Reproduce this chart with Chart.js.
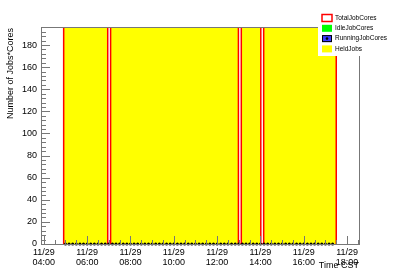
<!DOCTYPE html>
<html>
<head>
<meta charset="utf-8">
<script src="https://cdn.jsdelivr.net/npm/chart.js@4"></script>
<style>
  html, body { margin: 0; padding: 0; background: #fff; }
  #wrap { width: 400px; height: 271px; position: relative; }
</style>
</head>
<body>
<div id="wrap"><canvas id="c" width="400" height="271"></canvas></div>
<script>
// ---- data ----
const dateLabel = "11/29";
const tickHours = [4, 6, 8, 10, 12, 14, 16, 18];
const yTickValues = [0, 20, 40, 60, 80, 100, 120, 140, 160, 180];
const seriesNames = ["TotalJobCores", "IdleJobCores", "RunningJobCores", "HeldJobs"];

// step boundaries (value holds from this time until the next one)
const stepTimes      = ["04:55", "04:55", "06:57", "07:05", "12:59", "13:07", "14:01", "14:09", "17:30"];
const totalJobCores  = [0, 196, 0, 196, 0, 196, 0, 196, 0];
const heldJobs       = [0, 196, 0, 196, 0, 196, 0, 196, 0];
const idleJobCores   = [0, 0, 0, 0, 0, 0, 0, 0, 0];

// running job cores sampled each bin
const runTimes = [
  "05:00","05:10","05:20","05:30","05:40","05:50",
  "06:00","06:10","06:20","06:30","06:40","06:50",
  "07:00","07:10","07:20","07:30","07:40","07:50",
  "08:00","08:10","08:20","08:30","08:40","08:50",
  "09:00","09:10","09:20","09:30","09:40","09:50",
  "10:00","10:10","10:20","10:30","10:40","10:50",
  "11:00","11:10","11:20","11:30","11:40","11:50",
  "12:00","12:10","12:20","12:30","12:40","12:50",
  "13:00","13:10","13:20","13:30","13:40","13:50",
  "14:00","14:10","14:20","14:30","14:40","14:50",
  "15:00","15:10","15:20","15:30","15:40","15:50",
  "16:00","16:10","16:20","16:30","16:40","16:50",
  "17:00","17:10","17:20"
];
const runningJobCores = [
  0,0,0,0,0,0, 0,0,0,0,0,0, 0,0,0,0,0,0, 0,0,0,0,0,0,
  0,0,0,0,0,0, 0,0,0,0,0,0, 0,0,0,0,0,0, 0,0,0,0,0,0,
  0,0,0,0,0,0, 0,0,0,0,0,0, 0,0,0,0,0,0, 0,0,0,0,0,0,
  0,0,0
];

// ---- helpers ----
function toHours(s) { const p = s.split(":"); return (+p[0]) + (+p[1]) / 60; }
function pts(times, vals) { return times.map((t, i) => ({ x: toHours(t), y: vals[i] })); }
function pad2(n) { return (n < 10 ? "0" : "") + n; }

const FONT = '"Liberation Sans", Arial, sans-serif';
const AXIS_COLOR = '#777';

const rootStyle = {
  id: 'rootStyle',
  afterDatasetsDraw(chart) {
    const ctx = chart.ctx, a = chart.chartArea;
    const xs = chart.scales.x, ys = chart.scales.y;
    ctx.save();
    ctx.strokeStyle = AXIS_COLOR;
    ctx.lineWidth = 1;
    // frame
    ctx.strokeRect(Math.round(a.left) + 0.5, Math.round(a.top) + 0.5,
                   Math.round(a.right - a.left), Math.round(a.bottom - a.top));
    // y ticks (inward)
    ctx.beginPath();
    for (let v = 0; v <= ys.max + 0.001; v += 4) {
      const y = Math.round(ys.getPixelForValue(v)) + 0.5;
      const len = (v % 20 === 0) ? 9 : 5;
      ctx.moveTo(a.left, y); ctx.lineTo(a.left + len, y);
    }
    // x ticks (inward)
    for (let h = 4; h <= xs.max + 0.001; h += 0.5) {
      const x = Math.round(xs.getPixelForValue(h)) + 0.5;
      const len = (Math.abs(h % 2) < 0.001) ? 8 : 4;
      ctx.moveTo(x, a.bottom); ctx.lineTo(x, a.bottom - len);
    }
    ctx.stroke();
    ctx.restore();
  },
  afterDraw(chart) {
    const ctx = chart.ctx, a = chart.chartArea;
    ctx.save();
    // axis titles
    ctx.fillStyle = '#000';
    ctx.font = '9px ' + FONT;
    ctx.textAlign = 'right';
    ctx.textBaseline = 'alphabetic';
    ctx.fillText('Time CST', a.right, 268);
    ctx.save();
    ctx.translate(13, a.top + 1);
    ctx.rotate(-Math.PI / 2);
    ctx.textAlign = 'right';
    ctx.fillText('Number of Jobs*Cores', 0, 0);
    ctx.restore();

    // legend
    const lx = 318, ly = 10, lw = 80, lh = 46;
    ctx.fillStyle = '#fff';
    ctx.fillRect(lx, ly, lw, lh);
    const ds = chart.data.datasets;
    const rows = [ds[0], ds[1], ds[2], ds[3]];
    ctx.font = '6.5px ' + FONT;
    ctx.textAlign = 'left';
    ctx.textBaseline = 'middle';
    rows.forEach((d, i) => {
      const cy = 18 + i * 10.3;
      const bx = 322, bw = 10, bh = 7, by = cy - bh / 2;
      if (i === 0) {
        ctx.fillStyle = '#fff'; ctx.fillRect(bx, by, bw, bh);
        ctx.strokeStyle = d.borderColor; ctx.lineWidth = 1.5; ctx.strokeRect(bx, by, bw, bh);
      } else if (i === 1) {
        ctx.fillStyle = d.backgroundColor; ctx.fillRect(bx, by, bw, bh);
      } else if (i === 2) {
        ctx.fillStyle = '#3a3aff'; ctx.fillRect(bx, by, bw, bh);
        ctx.strokeStyle = '#000'; ctx.lineWidth = 1; ctx.strokeRect(bx + 0.5, by + 0.5, bw - 1, bh - 1);
        ctx.fillStyle = '#000'; ctx.beginPath(); ctx.arc(bx + bw / 2, cy, 1.3, 0, 2 * Math.PI); ctx.fill();
      } else {
        ctx.fillStyle = d.backgroundColor; ctx.fillRect(bx, by, bw, bh);
      }
      ctx.fillStyle = '#000';
      ctx.fillText(d.label, 335, cy);
    });
    ctx.restore();
  }
};

new Chart(document.getElementById('c'), {
  type: 'line',
  data: {
    datasets: [
      {
        label: seriesNames[0],
        data: pts(stepTimes, totalJobCores),
        stepped: true,
        borderColor: '#ff0000',
        borderWidth: 1.5,
        backgroundColor: 'rgba(0,0,0,0)',
        fill: false,
        pointRadius: 0,
        order: 2
      },
      {
        label: seriesNames[1],
        data: pts(stepTimes, idleJobCores),
        stepped: true,
        borderColor: '#00ff00',
        backgroundColor: '#00ff00',
        borderWidth: 0,
        showLine: false,
        pointRadius: 0,
        order: 3
      },
      {
        label: seriesNames[2],
        data: pts(runTimes, runningJobCores),
        showLine: false,
        borderColor: '#000',
        backgroundColor: '#000',
        pointRadius: 1.5,
        pointBorderWidth: 0,
        pointStyle: 'circle',
        clip: false,
        order: 1
      },
      {
        label: seriesNames[3],
        data: pts(stepTimes, heldJobs),
        stepped: true,
        borderColor: '#ffff00',
        borderWidth: 0,
        backgroundColor: '#ffff00',
        fill: 'origin',
        pointRadius: 0,
        order: 4
      }
    ]
  },
  options: {
    responsive: false,
    animation: false,
    events: [],
    layout: { padding: { left: 0, top: 27, right: 41, bottom: 0 } },
    plugins: { legend: { display: false }, tooltip: { enabled: false } },
    scales: {
      x: {
        type: 'linear',
        min: 3.87,
        max: 18.55,
        grid: { display: false, drawTicks: false },
        border: { display: false },
        afterBuildTicks(scale) { scale.ticks = tickHours.map(v => ({ value: v })); },
        afterFit(scale) { scale.height = 27; },
        ticks: {
          autoSkip: false,
          maxRotation: 0,
          padding: 3,
          color: '#000',
          font: { family: FONT, size: 9, lineHeight: 1.12 },
          callback: (v) => [dateLabel, pad2(v) + ':00']
        }
      },
      y: {
        type: 'linear',
        min: 0,
        max: 196.3,
        grid: { display: false, drawTicks: false },
        border: { display: false },
        afterBuildTicks(scale) { scale.ticks = yTickValues.map(v => ({ value: v })); },
        afterFit(scale) { scale.width = 41; },
        ticks: {
          padding: 4,
          color: '#000',
          font: { family: FONT, size: 9 },
          callback: (v) => String(v)
        }
      }
    }
  },
  plugins: [rootStyle]
});
</script>
</body>
</html>
